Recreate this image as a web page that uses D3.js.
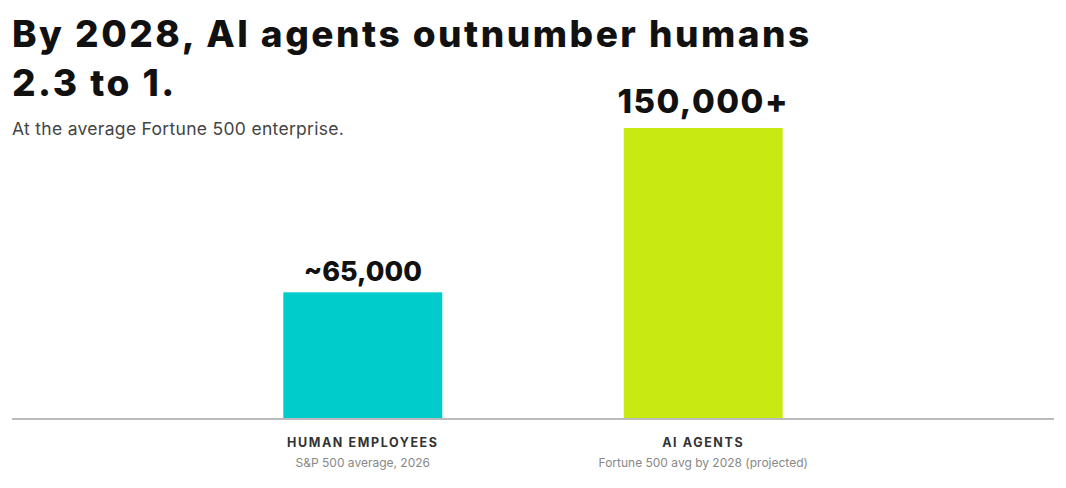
<!DOCTYPE html>
<html><head><meta charset="utf-8">
<script src="https://cdn.jsdelivr.net/npm/d3@7"></script>
<style>html,body{margin:0;padding:0;background:#fff;}svg{display:block;font-family:Inter,"Noto Sans",sans-serif;}</style>
</head><body><svg id="chart" width="1066" height="488"></svg>
<script>
const categories = ["HUMAN EMPLOYEES", "AI AGENTS"];
const subLabels = ["S&P 500 average, 2026", "Fortune 500 avg by 2028 (projected)"];
const values = [65000, 150000];
const valueLabels = ["~65,000", "150,000+"];
const colors = ["#00CCCC", "#C8EA12"];
const titleLines = ["By 2028, AI agents outnumber humans", "2.3 to 1."];
const subtitle = "At the average Fortune 500 enterprise.";

const svg = d3.select("#chart");
const base = 418;
const x = d3.scaleBand().domain(categories).range([12, 1054]).paddingInner(0.533).paddingOuter(0.797);
const y = d3.scaleLinear().domain([0, 150000]).range([base, 128]);

svg.append("g").selectAll("text").data(titleLines).join("text")
  .attr("x", 12).attr("y", (d,i) => 47 + i*49)
  .attr("font-size", 37).attr("font-weight", 800).attr("letter-spacing", "2.5px").attr("fill", "#111").text(d => d);
svg.append("text").attr("x", 12).attr("y", 135).attr("font-size", 17.5).attr("letter-spacing", "0.3px").attr("fill", "#444").text(subtitle);

svg.append("g").selectAll("rect").data(values).join("rect")
  .attr("x", (d,i) => x(categories[i])).attr("width", x.bandwidth())
  .attr("y", d => y(d)).attr("height", d => base - y(d))
  .attr("fill", (d,i) => colors[i]);

svg.append("g").selectAll("text").data(values).join("text")
  .attr("x", (d,i) => x(categories[i]) + x.bandwidth()/2).attr("y", (d,i) => y(d) - (i === 1 ? 15 : 11))
  .attr("text-anchor", "middle").attr("font-size", (d,i) => i === 1 ? 33 : 27).attr("font-weight", 800)
  .attr("letter-spacing", (d,i) => i === 1 ? "1.5px" : "0px").attr("fill", "#111")
  .text((d,i) => valueLabels[i]);

const axis = svg.append("g").attr("transform", `translate(0,${base})`)
  .call(d3.axisBottom(x).tickSize(0).tickFormat(""));
axis.select(".domain").attr("stroke", "#bbb").attr("stroke-width", 2).attr("d", "M12,1H1054");

svg.append("g").selectAll("text").data(categories).join("text")
  .attr("x", d => x(d) + x.bandwidth()/2).attr("y", 447)
  .attr("text-anchor", "middle").attr("font-size", 12.5).attr("font-weight", 700)
  .attr("letter-spacing", "1.6px").attr("fill", "#333").text(d => d);
svg.append("g").selectAll("text").data(subLabels).join("text")
  .attr("x", (d,i) => x(categories[i]) + x.bandwidth()/2).attr("y", 467)
  .attr("text-anchor", "middle").attr("font-size", 12).attr("fill", "#888").text(d => d);
</script></body></html>
